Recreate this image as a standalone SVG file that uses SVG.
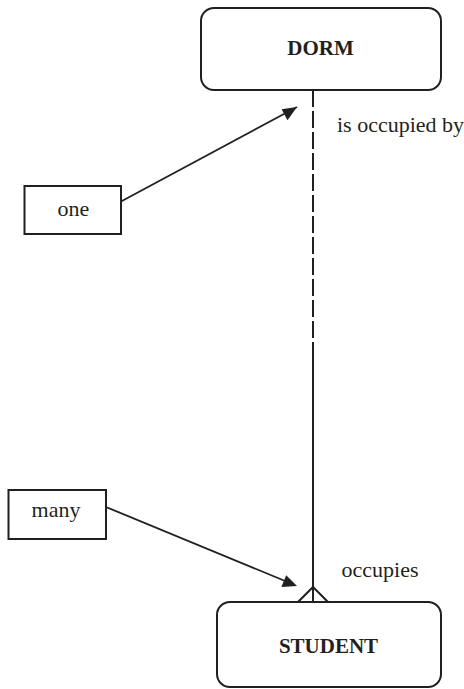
<svg xmlns="http://www.w3.org/2000/svg" width="464" height="689" viewBox="0 0 464 689">
  <style>
    .entity { fill: #ffffff; stroke: #231f20; stroke-width: 2; }
    .note { fill: #ffffff; stroke: #231f20; stroke-width: 2; }
    .title { font-family: "Liberation Serif", "Times New Roman", serif; font-weight: bold; font-size: 21px; fill: #231f20; text-anchor: middle; }
    .label { font-family: "Liberation Serif", "Times New Roman", serif; font-size: 22px; fill: #231f20; }
    .link { fill: none; stroke: #231f20; stroke-width: 2; }
    .pointer { fill: none; stroke: #231f20; stroke-width: 1.8; }
  </style>
  <defs>
    <marker id="arrowhead" viewBox="0 0 10 10" refX="10" refY="5" markerWidth="8" markerHeight="8" markerUnits="userSpaceOnUse" orient="auto">
      <path d="M0,0 L10,5 L0,10 Z" fill="#231f20"/>
    </marker>
  </defs>

  <!-- relationship line and pointer arrows -->
  <g id="connectors">
    <!-- optional half (DORM side) dashed, mandatory half solid -->
    <line class="link" x1="313" y1="90" x2="313" y2="340" stroke-dasharray="17 4"/>
    <line class="link" x1="313" y1="342" x2="313" y2="602"/>
    <!-- crow's foot at STUDENT -->
    <polyline class="link" points="298,602 313,587 328,602"/>
    <!-- cardinality pointers -->
    <line class="pointer" x1="121" y1="201.5" x2="297" y2="107" marker-end="url(#arrowhead)" style="marker-end:none"/>
    <path d="M297,107 L281.6,109.3 L287.5,120.3 Z" fill="#231f20"/>
    <line class="pointer" x1="106" y1="507" x2="290" y2="583"/>
    <path d="M297,586 L281.4,586.9 L286.2,575.3 Z" fill="#231f20"/>
    <text class="label" x="337" y="132">is occupied by</text>
    <text class="label" x="341.5" y="577">occupies</text>
  </g>

  <g id="dorm">
    <rect class="entity" x="201" y="8" width="240" height="82" rx="13"/>
    <text class="title" x="320.5" y="55">DORM</text>
  </g>

  <g id="student">
    <rect class="entity" x="217" y="602" width="224" height="85" rx="13"/>
    <text class="title" x="328.5" y="653">STUDENT</text>
  </g>

  <g id="one">
    <rect class="note" x="24.5" y="186" width="96.5" height="48"/>
    <text class="label" x="73.5" y="216" text-anchor="middle">one</text>
  </g>

  <g id="many">
    <rect class="note" x="8.5" y="490" width="97.5" height="49"/>
    <text class="label" x="56" y="517" text-anchor="middle">many</text>
  </g>
</svg>
